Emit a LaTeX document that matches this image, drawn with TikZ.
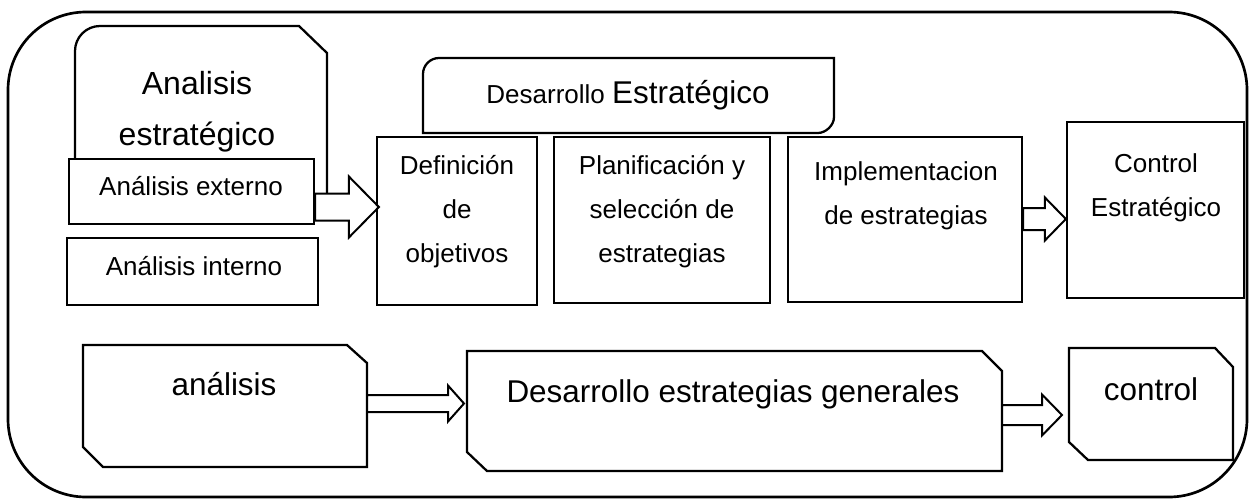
\documentclass[tikz,border=0pt]{standalone}
\usepackage{fontspec}
\setmainfont{Liberation Sans}
\usetikzlibrary{fit,calc}
\newcommand\fsA{\fontsize{19.5pt}{33pt}\selectfont}
\newcommand\fsB{\fontsize{23.6pt}{28pt}\selectfont}
\newcommand\fsC{\fontsize{24pt}{38.25pt}\selectfont}
\newcommand\mlines[1]{\begin{tabular}[t]{@{}c@{}}#1\end{tabular}}
\tikzset{
  frameline/.style={line width=2pt},
  boxline/.style={draw, line width=1.7pt, fill=white},
  plainbox/.style={boxline, inner sep=0pt},
  region/.style={inner sep=0pt, outer sep=0pt},
  txt/.style={anchor=base, inner sep=0pt},
  barrow/.style n args={3}{draw, fill=white, line width=1.5pt,
    to path={let \p1=(\tikztostart), \p2=(\tikztotarget) in
      (\x1,\y1+#1*0.75pt) -- (\x2-#3*0.75pt,\y1+#1*0.75pt) -- (\x2-#3*0.75pt,\y1+#2*0.75pt)
      -- (\x2,\y2) -- (\x2-#3*0.75pt,\y1-#2*0.75pt) -- (\x2-#3*0.75pt,\y1-#1*0.75pt)
      -- (\x1,\y1-#1*0.75pt) -- cycle}},
}
\begin{document}
\begin{tikzpicture}[x=0.75pt,y=-0.75pt]
\useasboundingbox (0,0) rectangle (1249,500);
% outer frame
\draw[frameline, rounded corners=58.5pt] (8,12) rectangle (1247,497);

% Analisis estrategico
\draw[boxline] (75,210) -- (75,51) .. controls (75,37.2) and (86.2,26) .. (100,26)
  -- (299,26) -- (327,53) -- (327,210) -- cycle;
\node[region, fit={(75,26) (327,210)}] (ae) {};
\node[txt, font=\fsC] (aet) at (197,94) {\mlines{Analisis\\estratégico}};

% Desarrollo Estrategico header
\draw[boxline] (423,133) -- (423,74) .. controls (423,65.2) and (430.2,58) .. (439,58)
  -- (834,58) -- (834,117) .. controls (834,125.8) and (825.2,133) .. (818,133) -- cycle;
\node[region, fit={(423,58) (834,133)}] (de) {};
\node[txt, font=\fsA] (det) at (628,103) {Desarrollo {\fsB Estratégico}};

% plain boxes
\node[plainbox, fit={(69,159) (314,224)}] (ext) {};
\node[plainbox, fit={(67,238) (318,305)}] (int) {};
\node[plainbox, fit={(377,137) (537,305)}] (def) {};
\node[plainbox, fit={(554,137) (770,303)}] (plan) {};
\node[plainbox, fit={(788,137) (1022,302)}] (impl) {};
\node[plainbox, fit={(1067,122) (1244,298)}] (ctrl) {};

\node[txt, font=\fsA] (extt) at (191,195) {Análisis externo};
\node[txt, font=\fsA] (intt) at (194,275) {Análisis interno};
\node[txt, font=\fsA] (deft) at (457,174) {\mlines{Definición\\de\\objetivos}};
\node[txt, font=\fsA] (plant) at (662,174) {\mlines{Planificación y\\selección de\\estrategias}};
\node[txt, font=\fsA] (implt) at (906,180) {\mlines{Implementacion\\de estrategias}};
\node[txt, font=\fsA] (ctrlt) at (1156,172) {\mlines{Control\\Estratégico}};

% bottom row
\draw[boxline] (83,345) -- (347,345) -- (367,363) -- (367,467) -- (103,467) -- (83,447) -- cycle;
\node[region, fit={(83,345) (367,467)}] (ana) {};
\draw[boxline] (467,351) -- (982,351) -- (1002,371) -- (1002,471) -- (487,471) -- (467,452) -- cycle;
\node[region, fit={(467,351) (1002,471)}] (deg) {};
\draw[boxline] (1069,348) -- (1215,348) -- (1233,367) -- (1233,460) -- (1088,460) -- (1069,442) -- cycle;
\node[region, fit={(1069,348) (1233,460)}] (con) {};

\node[txt, font=\fsB] (anat) at (224,395) {análisis};
\node[txt, font=\fsB] (degt) at (733,402) {Desarrollo estrategias generales};
\node[txt, font=\fsB] (cont) at (1151,400) {control};

% block arrows
\draw[barrow={13.5}{30.5}{30}] (ext.east |- 0,207) to ($(def.west |- 0,207)+(3,0)$);
\draw[barrow={11}{21.5}{21}] (impl.east |- 0,219) to (ctrl.west |- 0,219);
\draw[barrow={8.5}{18}{16}] (ana.east |- 0,403.5) to ($(deg.west |- 0,403.5)+(-3,0)$);
\draw[barrow={10}{20.5}{20}] (deg.east |- 0,415) to ($(con.west |- 0,415)+(-7,0)$);
\end{tikzpicture}
\end{document}
